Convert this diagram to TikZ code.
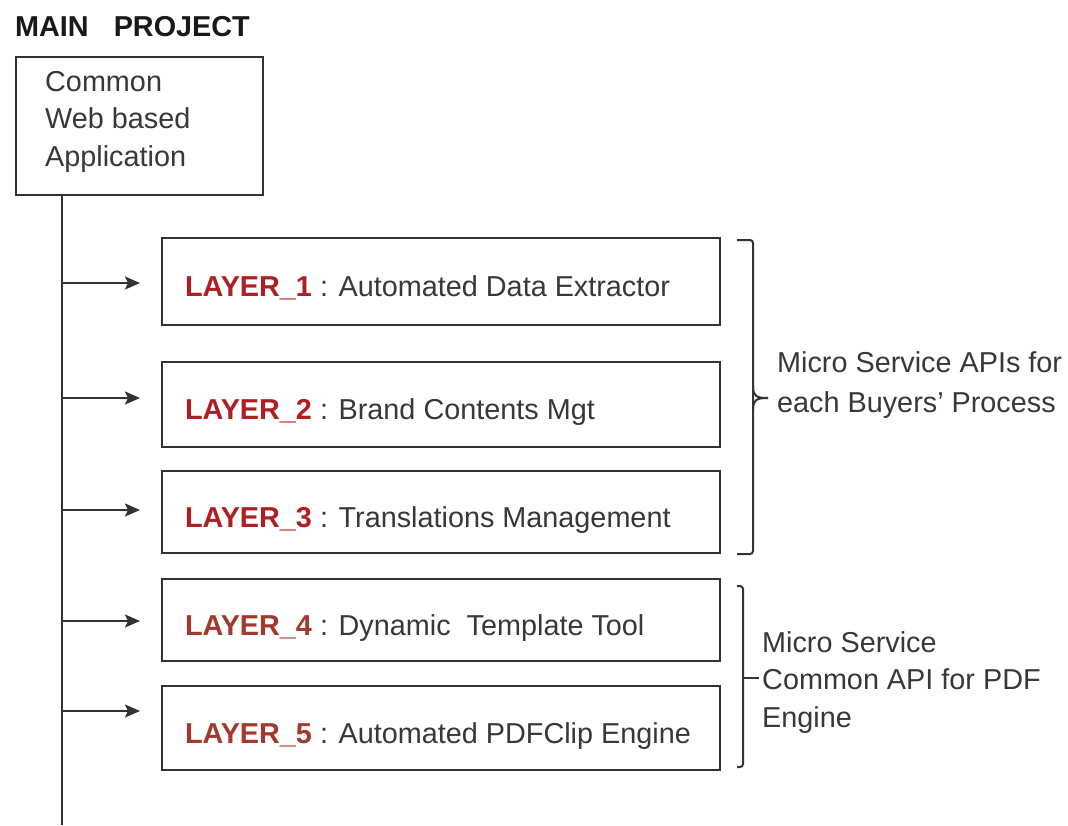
\documentclass[tikz,border=0pt]{standalone}
\usepackage{fontspec}
\setmainfont{Liberation Sans}
\usetikzlibrary{arrows.meta}
\definecolor{txt}{HTML}{383838}
\definecolor{ln}{HTML}{333333}
\definecolor{redA}{HTML}{AE1F24}
\definecolor{redB}{HTML}{A2392C}
\begin{document}
\begin{tikzpicture}[x=1pt,y=-1pt,
  every node/.style={text=txt},
  basefont/.style={font=\fontsize{28.8}{37.5}\selectfont},
  box/.style={draw=ln, line width=2pt, inner sep=0pt},
  layerbox/.style={box, basefont, text width=512pt, inner xsep=23pt, align=flush left, text height=30pt, text depth=0pt},
  conn/.style={draw=ln, line width=2pt, -{Stealth[length=15pt,width=13pt,inset=3pt]}, shorten >=21pt},
  trunk/.style={draw=ln, line width=2pt},
  bracket/.style={draw=ln, line width=2pt, rounded corners=3pt},
  lbl/.style={basefont, anchor=base west, align=flush left, inner sep=0pt}
]
\useasboundingbox (0,0) rectangle (1068,825);
\fill[white] (0,0) rectangle (1068,825);

% title
\node[lbl, font=\fontsize{28.8}{37.5}\selectfont\bfseries, text=black!90] (title) at (15,36) {MAIN\hspace{25pt}PROJECT};

% main box (text node anchored at its last baseline)
\node[box, minimum width=247pt, minimum height=138pt] (main) at (139.5,126) {};
\node[lbl] (maintext) at (45,166) {Common\\Web based\\Application};

% layer boxes
\node[layerbox, minimum height=87pt] (L1) at (441,281.5) {\textcolor{redA}{\bfseries LAYER\_1} : Automated Data Extractor};
\node[layerbox, minimum height=85pt] (L2) at (441,404.5) {\textcolor{redA}{\bfseries LAYER\_2} : Brand Contents Mgt};
\node[layerbox, minimum height=82pt] (L3) at (441,512) {\textcolor{redA}{\bfseries LAYER\_3} : Translations Management};
\node[layerbox, minimum height=82pt] (L4) at (441,620) {\textcolor{redB}{\bfseries LAYER\_4} : Dynamic\ \ Template Tool};
\node[layerbox, minimum height=84pt] (L5) at (441,728) {\textcolor{redB}{\bfseries LAYER\_5} : Automated PDFClip Engine};

% trunk
\coordinate (t0) at (62,195);
\coordinate (tend) at (62,825);
\coordinate (j1) at (62,283);
\coordinate (j2) at (62,398);
\coordinate (j3) at (62,510);
\coordinate (j4) at (62,621);
\coordinate (j5) at (62,711);
\draw[trunk] (t0) -- (tend);
\draw[conn] (j1) -- (j1 -| L1.west);
\draw[conn] (j2) -- (j2 -| L2.west);
\draw[conn] (j3) -- (j3 -| L3.west);
\draw[conn] (j4) -- (j4 -| L4.west);
\draw[conn] (j5) -- (j5 -| L5.west);

% bracket 1
\coordinate (b1a) at (737,240);
\coordinate (b1b) at (737,554);
\coordinate (b1tip) at (768,398);
\draw[bracket] (b1a) -- (753,240) -- (753,554) -- (b1b);
\draw[draw=ln, line width=2pt] (753,386) .. controls (753,396) and (756,398) .. (b1tip);
\draw[draw=ln, line width=2pt] (753,410) .. controls (753,400) and (756,398) .. (b1tip);
\node[lbl, font=\fontsize{28.8}{40}\selectfont] (note1) at (777,412) {Micro Service APIs for\\each Buyers' Process};

% bracket 2
\coordinate (b2a) at (737,586);
\coordinate (b2b) at (737,767);
\coordinate (b2tip) at (759,678);
\draw[bracket] (b2a) -- (743,586) -- (743,767) -- (b2b);
\draw[draw=ln, line width=2pt] (743,678) -- (b2tip);
\node[lbl] (note2) at (762,727) {Micro Service\\Common API for PDF\\Engine};
\end{tikzpicture}
\end{document}
